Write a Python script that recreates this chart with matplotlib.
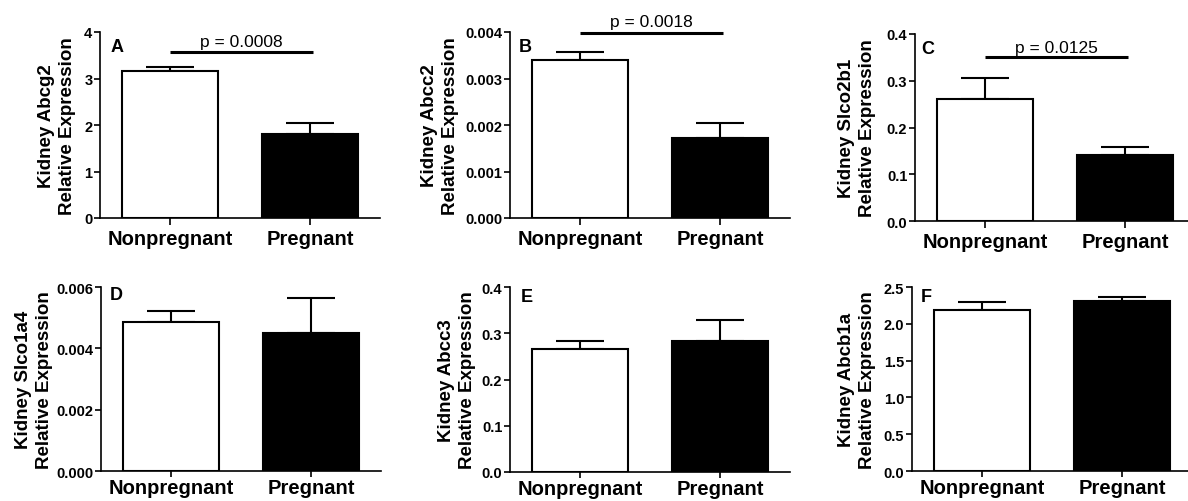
import matplotlib
matplotlib.use('Agg')
import matplotlib.pyplot as plt
from matplotlib.ticker import FormatStrFormatter, MultipleLocator

plt.rcParams['font.family'] = ['Liberation Sans', 'DejaVu Sans']
plt.rcParams['font.weight'] = 'bold'

# Data (mean, upper SEM)
GROUPS = ['Nonpregnant', 'Pregnant']
LETTERS = ['A', 'B', 'C', 'D', 'E', 'F']
GENES = ['Abcg2', 'Abcc2', 'Slco2b1', 'Slco1a4', 'Abcc3', 'Abcb1a']

abcg2_mean = [3.16, 1.81]
abcg2_sem = [0.09, 0.23]
abcc2_mean = [0.00340, 0.00172]
abcc2_sem = [0.00016, 0.00033]
slco2b1_mean = [0.261, 0.141]
slco2b1_sem = [0.045, 0.017]
slco1a4_mean = [0.00486, 0.00451]
slco1a4_sem = [0.00035, 0.00113]
abcc3_mean = [0.267, 0.283]
abcc3_sem = [0.016, 0.045]
abcb1a_mean = [2.19, 2.31]
abcb1a_sem = [0.11, 0.06]

MEANS = [abcg2_mean, abcc2_mean, slco2b1_mean, slco1a4_mean, abcc3_mean, abcb1a_mean]
SEMS = [abcg2_sem, abcc2_sem, slco2b1_sem, slco1a4_sem, abcc3_sem, abcb1a_sem]

Y_MAX = [4, 0.004, 0.4, 0.006, 0.4, 2.5]
Y_STEP = [1, 0.001, 0.1, 0.002, 0.1, 0.5]
Y_FMT = ['%d', '%.3f', '%.1f', '%.3f', '%.1f', '%.1f']

# significance bars (panel index -> p value)
P_VALUES = {0: '0.0008', 1: '0.0018', 2: '0.0125'}

# Layout (pixels in a 1188x502 canvas)
W, H = 1188, 502
AX_BOXES = [
    (100, 33, 380, 219),
    (510, 33, 790, 219),
    (915, 35, 1195, 222),
    (101, 288, 381, 472),
    (510, 288, 790, 473),
    (912, 288, 1192, 472),
]
YLABEL_DX = [-43, -70, -58, -67, -53, -55]
LETTER_OFFS = [(17, 14), (15, 15), (13, 15), (15, 7), (17, 9), (14, 10)]
SIG_LEVEL = {0: 3.58, 1: 0.00398, 2: 0.351}
SIG_TEXT_PAD = {0: 1.5, 1: 2.5, 2: 1.5}

fig = plt.figure(figsize=(W / 100, H / 100), dpi=100)

for i, box in enumerate(AX_BOXES):
    l, t, r, b = box
    ax = fig.add_axes([l / W, 1 - b / H, (r - l) / W, (b - t) / H])
    x = [0, 1]

    ax.errorbar(x, MEANS[i], yerr=[[0, 0], SEMS[i]], fmt='none', ecolor='black',
                elinewidth=1.5, capsize=17, capthick=1.5, zorder=1)
    ax.bar(x, MEANS[i], width=0.68, color=['white', 'black'], edgecolor='black',
           linewidth=1.5, zorder=2)

    ax.set_xlim(-0.5, 1.5)
    ax.set_ylim(0, Y_MAX[i])
    ax.yaxis.set_major_locator(MultipleLocator(Y_STEP[i]))
    ax.yaxis.set_major_formatter(FormatStrFormatter(Y_FMT[i]))
    ax.set_xticks(x)
    ax.set_xticklabels(GROUPS)

    for side in ['top', 'right']:
        ax.spines[side].set_visible(False)
    for side in ['left', 'bottom']:
        ax.spines[side].set_linewidth(1.2)

    bottom_row = i >= 3
    ax.tick_params(axis='y', length=4, width=1.2, pad=1.5, labelsize=10.5)
    ax.tick_params(axis='x', length=4 if bottom_row else 5, width=1.2,
                   pad=1.2 if bottom_row else 3, labelsize=14.5)

    ax.text(YLABEL_DX[i] / (r - l), 0.5, f'Kidney {GENES[i]}\nRelative Expression',
            transform=ax.transAxes, rotation=90, ha='center', va='center',
            fontsize=13.5, fontweight='bold', linespacing=1.35)

    dx, dy = LETTER_OFFS[i]
    ax.annotate(LETTERS[i], xy=(0, 1), xycoords='axes fraction', xytext=(dx, -dy),
                textcoords='offset pixels', ha='center', va='center',
                fontsize=13, fontweight='bold')

    if i in P_VALUES:
        y = SIG_LEVEL[i]
        ax.plot([0, 1.02], [y, y], color='black', lw=2.2, clip_on=False,
                solid_capstyle='butt')
        ax.annotate(f'p = {P_VALUES[i]}', xy=(0.51, y), xytext=(0, SIG_TEXT_PAD[i]),
                    textcoords='offset points', ha='center', va='bottom',
                    fontsize=12.5, fontweight='normal', annotation_clip=False)

fig.savefig('out.png', dpi=100)
